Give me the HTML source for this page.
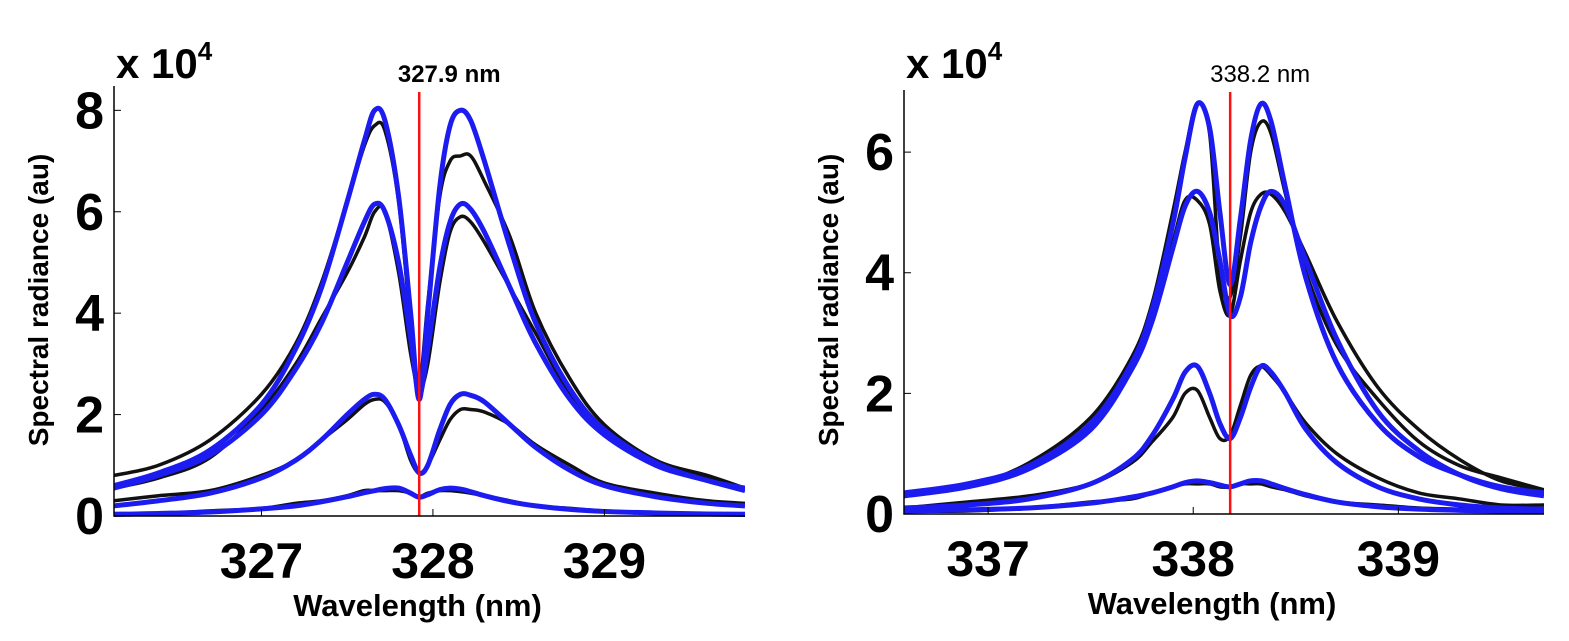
<!DOCTYPE html>
<html><head><meta charset="utf-8"><style>
html,body{margin:0;padding:0;background:#fff;}
svg{display:block;font-family:"Liberation Sans",Arial,sans-serif;}
.narrow{font-family:"Liberation Sans Narrow","Liberation Sans",Arial,sans-serif;}
</style></head><body>
<svg id="chart" width="1569" height="641" viewBox="0 0 1569 641"></svg>
<script>
// ---- Left panel data ----
const L_X=[326.14,326.4,326.7,327.0,327.2,327.35,327.5,327.6,327.66,327.72,327.8,327.87,327.92,327.97,328.04,328.1,328.16,328.22,328.3,328.45,328.6,328.8,329.0,329.3,329.6,329.82];
const L_FIT1=[0.6,0.85,1.3,2.2,3.3,4.5,6.2,7.4,8.0,7.8,6.3,4.0,2.3,4.0,6.5,7.7,8.0,7.8,7.0,5.3,3.8,2.5,1.7,1.05,0.7,0.55];
const L_FIT2=[0.55,0.8,1.2,2.0,2.9,3.8,5.0,5.8,6.15,6.0,5.0,3.5,2.4,3.3,4.9,5.8,6.15,6.05,5.6,4.5,3.4,2.3,1.6,1.0,0.7,0.5];
const L_FIT3=[0.2,0.3,0.45,0.75,1.1,1.5,2.0,2.3,2.4,2.3,1.8,1.2,0.85,1.0,1.7,2.2,2.4,2.38,2.25,1.8,1.35,0.9,0.6,0.38,0.25,0.2];
const L_FIT4=[0.03,0.05,0.08,0.14,0.2,0.28,0.38,0.46,0.5,0.54,0.55,0.45,0.37,0.42,0.52,0.55,0.53,0.48,0.4,0.28,0.2,0.13,0.09,0.06,0.04,0.03];
const L_DAT1=[0.8,1.0,1.5,2.4,3.4,4.6,6.2,7.3,7.7,7.6,6.2,3.8,2.6,4.2,6.3,7.0,7.1,7.1,6.6,5.5,4.0,2.7,1.8,1.1,0.8,0.55];
const L_DAT2=[0.55,0.75,1.15,2.1,3.0,3.9,4.8,5.5,6.0,6.0,4.8,3.2,2.5,3.0,4.6,5.6,5.9,5.8,5.4,4.5,3.6,2.4,1.7,1.05,0.75,0.5];
const L_DAT3=[0.3,0.4,0.5,0.8,1.1,1.5,1.9,2.2,2.3,2.25,1.8,1.1,0.85,1.0,1.5,1.9,2.1,2.1,2.05,1.8,1.4,1.0,0.65,0.45,0.3,0.25];
const L_DAT4=[0.05,0.05,0.1,0.15,0.25,0.3,0.4,0.5,0.5,0.5,0.5,0.45,0.38,0.45,0.5,0.5,0.48,0.45,0.4,0.3,0.2,0.15,0.1,0.06,0.05,0.05];
const L_XTICKS=[327,328,329];
const L_YTICKS=[0,2,4,6,8];
const L_LINE=327.92;
// ---- Right panel data ----
const R_X=[336.59,336.9,337.2,337.5,337.7,337.8,337.9,337.96,338.02,338.08,338.13,338.18,338.23,338.28,338.33,338.38,338.45,338.55,338.7,338.9,339.1,339.3,339.5,339.71];
const R_FIT1=[0.35,0.5,0.8,1.5,2.5,3.4,4.8,5.9,6.8,6.4,5.0,3.8,4.9,6.2,6.8,6.5,5.4,3.9,2.5,1.5,0.95,0.65,0.45,0.35];
const R_FIT2=[0.3,0.45,0.75,1.4,2.4,3.2,4.4,5.1,5.35,5.0,4.2,3.3,3.6,4.5,5.1,5.35,5.1,4.2,2.9,1.7,1.05,0.65,0.42,0.3];
const R_FIT3=[0.1,0.15,0.25,0.5,0.9,1.3,1.9,2.35,2.45,2.0,1.5,1.25,1.6,2.1,2.45,2.35,2.0,1.4,0.85,0.45,0.25,0.15,0.1,0.08];
const R_FIT4=[0.05,0.07,0.1,0.18,0.28,0.35,0.45,0.52,0.55,0.52,0.48,0.45,0.5,0.55,0.55,0.5,0.42,0.32,0.2,0.12,0.08,0.06,0.05,0.05];
const R_DAT1=[0.3,0.45,0.85,1.6,2.6,3.5,5.0,6.0,6.8,6.3,4.0,3.6,4.6,6.0,6.5,6.3,5.3,4.0,2.8,1.9,1.2,0.8,0.6,0.4];
const R_DAT2=[0.3,0.45,0.8,1.5,2.4,3.3,4.5,5.2,5.2,4.8,3.7,3.3,4.2,5.0,5.3,5.3,5.0,4.3,3.2,2.1,1.4,0.9,0.55,0.4];
const R_DAT3=[0.1,0.2,0.3,0.5,0.85,1.2,1.6,2.0,2.05,1.6,1.25,1.3,1.8,2.3,2.45,2.3,2.0,1.5,1.0,0.6,0.35,0.25,0.15,0.15];
const R_DAT4=[0.05,0.05,0.1,0.2,0.25,0.35,0.45,0.5,0.5,0.5,0.45,0.45,0.5,0.5,0.5,0.45,0.4,0.3,0.2,0.15,0.1,0.08,0.05,0.05];
const R_XTICKS=[337,338,339];
const R_YTICKS=[0,2,4,6];
const R_LINE=338.18;

const NS="http://www.w3.org/2000/svg";
const svg=document.getElementById('chart');
function mk(tag,attrs,parent){const e=document.createElementNS(NS,tag);for(const k in attrs)e.setAttribute(k,attrs[k]);(parent||svg).appendChild(e);return e;}
function smooth(P){
  let d='M'+P[0][0]+' '+P[0][1];
  for(let j=0;j<P.length-1;j++){
    const p0=P[Math.max(0,j-1)],p1=P[j],p2=P[j+1],p3=P[Math.min(P.length-1,j+2)];
    const c1=[p1[0]+(p2[0]-p0[0])/6,p1[1]+(p2[1]-p0[1])/6];
    const c2=[p2[0]-(p3[0]-p1[0])/6,p2[1]-(p3[1]-p1[1])/6];
    d+='C'+c1[0]+' '+c1[1]+' '+c2[0]+' '+c2[1]+' '+p2[0]+' '+p2[1];
  }
  return d;
}

function panel(cfg){
  const g=mk('g',{});
  
  
  const sx=v=>cfg.px0+(v-cfg.x0)/(cfg.x1-cfg.x0)*(cfg.px1-cfg.px0);
  const sy=v=>cfg.py0-(v)/(cfg.yTop)*(cfg.py0-cfg.py1);
  const clipId='clip-'+cfg.name;
  const cp=mk('clipPath',{id:clipId},g);
  mk('rect',{x:cfg.px0,y:cfg.py1,width:cfg.px1-cfg.px0,height:cfg.py0-cfg.py1+6},cp);
  const plot=mk('g',{'clip-path':'url(#'+clipId+')'},g);
  cfg.data.forEach((ys,i)=>{
    const P=cfg.xs.map((x,j)=>[sx(x),sy(ys[j])]);
    const p=mk('path',{d:smooth(P),fill:'none',stroke:'#111',"stroke-width":3.5},plot);
    
    
  });
  cfg.fits.forEach((ys,i)=>{
    const P=cfg.xs.map((x,j)=>[sx(x),sy(ys[j])]);
    const p=mk('path',{d:smooth(P),fill:'none',stroke:'#1c1cf0',"stroke-width":5,"stroke-linejoin":"round"},plot);
    
    
  });
  const rl=mk('line',{x1:sx(cfg.line),x2:sx(cfg.line),y1:cfg.lineTop,y2:cfg.py0,stroke:'#ff1010',"stroke-width":2.5},g);
  
  
  const rt=mk('text',{x:sx(cfg.line)+cfg.lblDx,y:cfg.lineTop-10,"font-size":cfg.lblSize,"font-weight":cfg.lblWeight,"text-anchor":"middle",fill:'#000',"class":"narrow"},g);
  rt.textContent=cfg.lineLabel;
  
  
  const ax=mk('path',{d:'M'+cfg.px0+' '+cfg.py1+'V'+cfg.py0+'H'+cfg.px1,fill:'none',stroke:'#000',"stroke-width":1.5},g);
  
  
  cfg.xticks.forEach(t=>{
    const tl=mk('line',{x1:sx(t),x2:sx(t),y1:cfg.py0,y2:cfg.py0-7,stroke:'#000',"stroke-width":1},g);
    
    
    const tx=mk('text',{x:sx(t),y:cfg.py0+62,"font-size":50,"font-weight":"bold","text-anchor":"middle","class":"narrow"},g);
    tx.textContent=t;
    
    
  });
  cfg.yticks.forEach(t=>{
    const tl=mk('line',{x1:cfg.px0,x2:cfg.px0+7,y1:sy(t),y2:sy(t),stroke:'#000',"stroke-width":1},g);
    
    
    const tx=mk('text',{x:cfg.px0-10,y:sy(t)+18,"font-size":52,"font-weight":"bold","text-anchor":"end","class":"narrow"},g);
    tx.textContent=t;
    
    
  });
  const ex=mk('text',{x:cfg.px0+2,y:78,"font-size":42,"font-weight":"bold","class":"narrow"},g);
  ex.innerHTML='x 10<tspan dy="-18" font-size="26">4</tspan>';
  
  
  const xl=mk('text',{x:(cfg.px0+cfg.px1)/2-12,y:cfg.py0+100,"font-size":31,"font-weight":"bold","text-anchor":"middle"},g);
  xl.textContent='Wavelength (nm)';
  
  
  const yl=mk('text',{x:0,y:0,"font-size":28,"font-weight":"bold","text-anchor":"middle",transform:'translate('+cfg.ylx+',300) rotate(-90)'},g);
  yl.textContent='Spectral radiance (au)';
  
  
}

panel({name:'left-panel',xs:L_X,fits:[L_FIT1,L_FIT2,L_FIT3,L_FIT4],data:[L_DAT1,L_DAT2,L_DAT3,L_DAT4],
  xticks:L_XTICKS,yticks:L_YTICKS,line:L_LINE,lineLabel:'327.9 nm',lblSize:24,lblWeight:'bold',lblDx:30,lineTop:92,
  x0:326.14,x1:329.82,px0:114,px1:745,py0:516,py1:86,yTop:8.48,ylx:48});
panel({name:'right-panel',xs:R_X,fits:[R_FIT1,R_FIT2,R_FIT3,R_FIT4],data:[R_DAT1,R_DAT2,R_DAT3,R_DAT4],
  xticks:R_XTICKS,yticks:R_YTICKS,line:R_LINE,lineLabel:'338.2 nm',lblSize:24,lblWeight:'normal',lblDx:30,lineTop:92,
  x0:336.59,x1:339.71,px0:904,px1:1544,py0:514,py1:90,yTop:7.03,ylx:838});
</script>
</body></html>
